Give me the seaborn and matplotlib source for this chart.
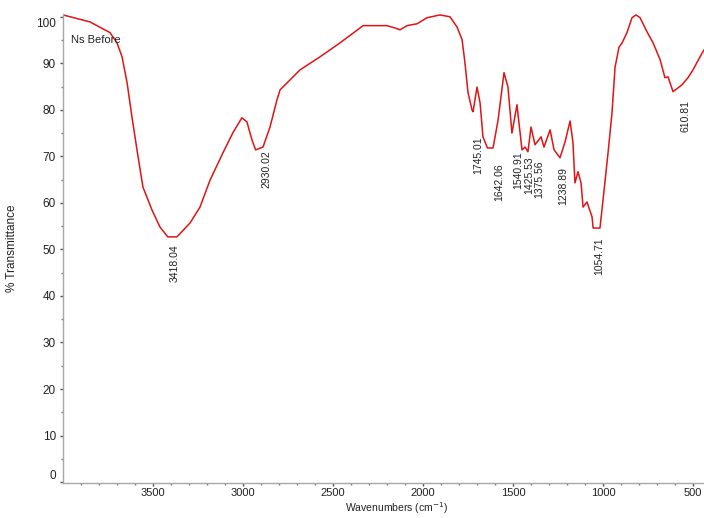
import numpy as np
import pandas as pd
import matplotlib
matplotlib.use("Agg")
import matplotlib.pyplot as plt
import matplotlib.transforms as mtransforms
import seaborn as sns

# ---- data ----
wavenumber = [4000, 3850, 3739, 3700, 3672, 3644, 3617, 3589, 3556, 3506, 3461, 3418,
              3367, 3294, 3239, 3183, 3111, 3056, 3006, 2978, 2950, 2930, 2889, 2850,
              2811, 2794, 2683, 2572, 2461, 2350, 2333, 2200, 2156, 2128, 2089, 2033,
              1978, 1906, 1850, 1811, 1783, 1767, 1750, 1728, 1722, 1700, 1683, 1667,
              1642, 1611, 1583, 1550, 1528, 1506, 1478, 1467, 1450, 1433, 1417, 1400,
              1378, 1344, 1328, 1294, 1272, 1239, 1211, 1183, 1167, 1156, 1139, 1122,
              1111, 1089, 1061, 1055, 1017, 1000, 972, 950, 933, 911, 894, 867, 839,
              817, 794, 756, 722, 683, 656, 639, 611, 561, 528, 500, 461, 439]
transmittance = [100.4, 98.9, 96.6, 94.4, 91.4, 85.8, 78.5, 71.4, 63.4, 58.5, 54.8, 52.7,
                 52.7, 55.7, 59.1, 64.9, 70.8, 75.1, 78.3, 77.4, 73.5, 71.4, 72.0, 76.3,
                 82.2, 84.3, 88.6, 91.4, 94.4, 97.6, 98.1, 98.1, 97.6, 97.2, 98.1, 98.5,
                 99.8, 100.4, 100.0, 97.8, 95.1, 90.1, 83.7, 80.0, 79.6, 84.9, 81.5, 74.2,
                 71.8, 71.8, 77.8, 88.0, 84.9, 75.0, 81.1, 77.2, 71.4, 72.0, 71.0, 76.3,
                 72.5, 74.2, 72.0, 75.7, 71.4, 69.7, 73.1, 77.6, 73.0, 64.3, 66.7, 64.3,
                 59.1, 60.2, 57.0, 54.6, 54.6, 60.6, 70.8, 79.4, 89.2, 93.5, 94.4, 96.6, 99.8,
                 100.4, 99.8, 96.8, 94.4, 90.8, 86.9, 87.1, 83.9, 85.4, 86.9, 88.6, 91.4, 92.9]

peak_labels = ["3418.04", "2930.02", "1745.01", "1642.06", "1540.91", "1425.53",
               "1375.56", "1238.89", "1054.71", "610.81"]
peak_label_top = [51.0, 71.4, 74.2, 68.6, 71.0, 69.9, 69.2, 67.7, 52.5, 82.2]

y_ticks = [0, 10, 20, 30, 40, 50, 60, 70, 80, 90, 100]
x_ticks = [3500, 3000, 2500, 2000, 1500, 1000, 500]

sample_name = "Ns Before"
x_title = "Wavenumbers (cm$^{-1}$)"
y_title = "% Transmittance"

# ---- styling ----
sns.set_style("white")
plt.rcParams["font.family"] = ["Liberation Sans", "DejaVu Sans"]

fig = plt.figure(figsize=(7.04, 5.18), dpi=100)
ax = fig.add_axes([63 / 704, 35 / 518, 641 / 704, 469 / 518])

df = pd.DataFrame({"wavenumber": wavenumber, "transmittance": transmittance})
sns.lineplot(data=df, x="wavenumber", y="transmittance", ax=ax, color="#e01414",
             linewidth=1.1, estimator=None, sort=False)

ax.set_xlim(4000, 439)
ax.set_ylim(-0.2, 100.6)

ax.set_xticks(x_ticks)
ax.set_xticks(np.arange(3900, 439, -100), minor=True)
ax.set_yticks(y_ticks)
ax.set_yticks(np.arange(5, 100, 10), minor=True)
ax.set_xticklabels([str(t) for t in x_ticks])
ax.set_yticklabels([str(t) for t in y_ticks])

for s in ["top", "right"]:
    ax.spines[s].set_visible(False)
for s in ["left", "bottom"]:
    ax.spines[s].set_color("#a8a8a8")
    ax.spines[s].set_linewidth(1.0)

ax.tick_params(axis="both", which="major", direction="out", length=2, width=1,
               color="#555555", labelsize=8.5, labelcolor="#222222", pad=3)
ax.tick_params(axis="x", which="major", pad=1.5, labelsize=8)
ax.tick_params(axis="both", which="minor", direction="out", length=1.5, width=1,
               color="#777777")
ax.tick_params(axis="x", which="both", bottom=True)
ax.tick_params(axis="y", which="both", left=True)

# nudge end labels inward like the original software
ylabels = ax.get_yticklabels()
ylabels[-1].set_transform(ylabels[-1].get_transform() +
                          mtransforms.ScaledTranslation(0, -6 / 100, fig.dpi_scale_trans))
ylabels[0].set_transform(ylabels[0].get_transform() +
                         mtransforms.ScaledTranslation(0, 8 / 100, fig.dpi_scale_trans))

ax.set_xlabel(x_title, fontsize=7.5, color="#222222")
ax.xaxis.set_label_coords(0.52, -0.037)
ax.set_ylabel(y_title, fontsize=8.5, color="#222222")
ax.yaxis.set_label_coords(-0.07, 0.5)

label_dx_px = [7, 11, 9, 12, 13, 3, 4, 3, 6, 12]
for txt, top, dx in zip(peak_labels, peak_label_top, label_dx_px):
    ax.annotate(txt, xy=(float(txt), top), xytext=(dx * 0.72, 0),
                textcoords="offset points", rotation=90, ha="center", va="top",
                fontsize=7.5, color="#222222")

ax.text(0.012, 0.945, sample_name, transform=ax.transAxes, fontsize=8,
        color="#222222", ha="left", va="center")

fig.savefig("out.png", dpi=100)
